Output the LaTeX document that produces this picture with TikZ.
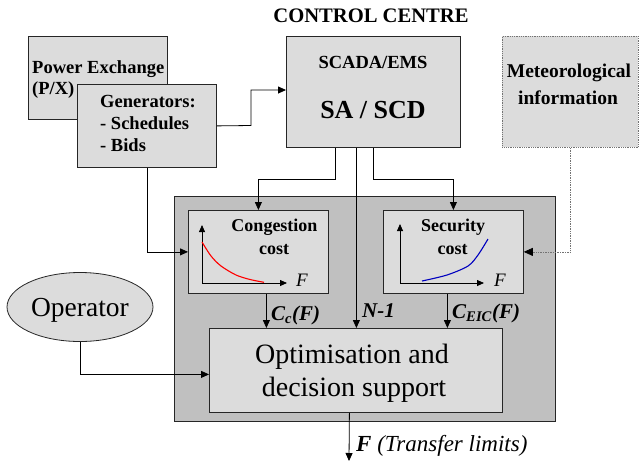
\documentclass[tikz,border=0pt]{standalone}
\usepackage{fontspec}
\setmainfont{Liberation Serif}
\usetikzlibrary{arrows.meta,shapes.geometric}
\definecolor{lightbox}{HTML}{DCDCDC}
\definecolor{outerbox}{HTML}{C0C0C0}
\begin{document}
\begin{tikzpicture}[x=1pt,y=-1pt,
  box/.style={draw=black!85, fill=lightbox, line width=0.8pt, inner sep=0pt, anchor=north west},
  arr/.style={-{Triangle[length=8pt,width=7pt]}, line width=0.8pt},
  axarr/.style={-{Triangle[length=7pt,width=6pt]}, line width=0.8pt},
  dotarr/.style={-{Triangle[length=9pt,width=8pt,color=black]}, line width=0.7pt, densely dotted, draw=black!55},
  txt/.style={inner sep=0pt, anchor=base},
  txtl/.style={inner sep=0pt, anchor=base west},
  bf/.style={font=\bfseries\fontsize{18.5}{22}\selectfont},
  lab/.style={font=\bfseries\itshape\fontsize{21}{24}\selectfont}
]
\useasboundingbox (0,0) rectangle (639,461);

% control centre title
\node[txt, font=\bfseries\fontsize{20.6}{24}\selectfont] (cc) at (371,22) {CONTROL CENTRE};

% power exchange and generators
\node[box, minimum width=139pt, minimum height=83pt] (px) at (28,36) {};
\node[txtl, bf] (pxt1) at (32,73) {Power Exchange};
\node[txtl, bf] (pxt2) at (32,94) {(P/X)};
\node[box, minimum width=139pt, minimum height=83pt] (gen) at (77,84) {};
\node[txtl, bf] (gt1) at (100,107.5) {Generators:};
\node[txtl, bf] (gt2) at (100,129.5) {- Schedules};
\node[txtl, bf] (gt3) at (100,151.5) {- Bids};

% SCADA
\node[box, minimum width=174pt, minimum height=111pt] (scada) at (286,36) {};
\node[txt, bf] (sct1) at (373,68) {SCADA/EMS};
\node[txt, font=\bfseries\fontsize{26}{30}\selectfont] (sct2) at (373,118) {SA / SCD};

% Meteorological
\node[box, draw=black!55, densely dotted, minimum width=136pt, minimum height=111pt] (met) at (502,36) {};
\node[txt, font=\bfseries\fontsize{19.5}{23}\selectfont] (mt1) at (569,77) {Meteorological};
\node[txt, font=\bfseries\fontsize{19.5}{23}\selectfont] (mt2) at (568,104) {information};

% outer box
\node[box, fill=outerbox, line width=1.1pt, minimum width=381pt, minimum height=225pt] (outer) at (174,196) {};

% congestion cost
\node[box, minimum width=140pt, minimum height=83pt] (cong) at (188,210) {};
\node[txt, font=\bfseries\fontsize{18}{22}\selectfont] (cgt1) at (274.5,231.5) {Congestion};
\node[txt, font=\bfseries\fontsize{18}{22}\selectfont] (cgt2) at (274,254) {cost};
\coordinate (co) at (202,283);
\coordinate (cy) at (202,225);
\coordinate (cx) at (287,283);
\draw[axarr] (co) -- (cy);
\draw[axarr] (co) -- (cx);
\node[txtl, font=\itshape\fontsize{19}{22}\selectfont] (cF) at (296,286) {F};
\draw[red, line width=1.1pt] plot[smooth] coordinates {(202,242) (211,256) (221,266) (236,275) (250,279.5) (264,282.3)};

% security cost
\node[box, minimum width=140pt, minimum height=83pt] (sec) at (383,210) {};
\node[txt, font=\bfseries\fontsize{18}{22}\selectfont] (st1) at (453,231.5) {Security};
\node[txt, font=\bfseries\fontsize{18}{22}\selectfont] (st2) at (452.7,254) {cost};
\coordinate (so) at (400,283);
\coordinate (sy) at (400,224);
\coordinate (sx) at (484,283);
\draw[axarr] (so) -- (sy);
\draw[axarr] (so) -- (sx);
\node[txtl, font=\itshape\fontsize{19}{22}\selectfont] (sF) at (494,286) {F};
\draw[blue!75!black, line width=1.1pt] plot[smooth] coordinates {(422,281) (447,275) (468,266) (478,255) (488,239)};

% optimisation
\node[box, minimum width=293pt, minimum height=84pt] (opt) at (209,328) {};
\node[txt, font=\fontsize{28}{32}\selectfont] (ot1) at (352,363) {Optimisation and};
\node[txt, font=\fontsize{28}{32}\selectfont] (ot2) at (354,396) {decision support};

% operator
\node[draw=black!85, fill=lightbox, line width=0.8pt, ellipse, minimum width=146pt, minimum height=69pt, inner sep=0pt] (op) at (80,307) {};
\node[txt, font=\fontsize{27.5}{32}\selectfont] (opt1) at (80,316) {Operator};

% connectors
\coordinate (g1) at (251,125.5);
\coordinate (g2) at (286,90);
\draw[arr] (gen.east) -- (g1) |- (g2);
\coordinate (s1) at ([xshift=-38pt]scada.south);
\coordinate (s2) at ([xshift=-17pt]scada.south);
\draw[arr] (s1) -- ++(0,32) -| (cong.north);
\draw[arr] (scada.south) -- ++(0,32) -| (sec.north);
\draw[arr] (s2) -- (s2 |- opt.north);
\draw[arr] (gen.south) |- (cong.west);
\draw[dotarr] (met.south) |- (sec.east);
\coordinate (c1) at ([xshift=8pt]cong.south);
\draw[arr] (c1) -- (c1 |- opt.north);
\coordinate (c2) at ([xshift=-6pt]sec.south);
\draw[arr] (c2) -- (c2 |- opt.north);
\coordinate (opw) at ([yshift=-4pt]opt.west);
\draw[arr] (op.south) |- (opw);
\coordinate (o1) at ([xshift=-6.5pt]opt.south);
\coordinate (oend) at (349,461);
\draw[arr] (o1) -- (oend);

% labels
\node[txtl, lab] (lcc) at (271,320) {C\textsubscript{c}(F)};
\node[txtl, lab] (ln1) at (362,317) {N-1};
\node[txtl, lab] (lce) at (452,318) {C\textsubscript{EIC}(F)};
\node[txtl, font=\itshape\fontsize{23}{26}\selectfont] (lf) at (356,451) {\textbf{F} (Transfer limits)};
\end{tikzpicture}
\end{document}
